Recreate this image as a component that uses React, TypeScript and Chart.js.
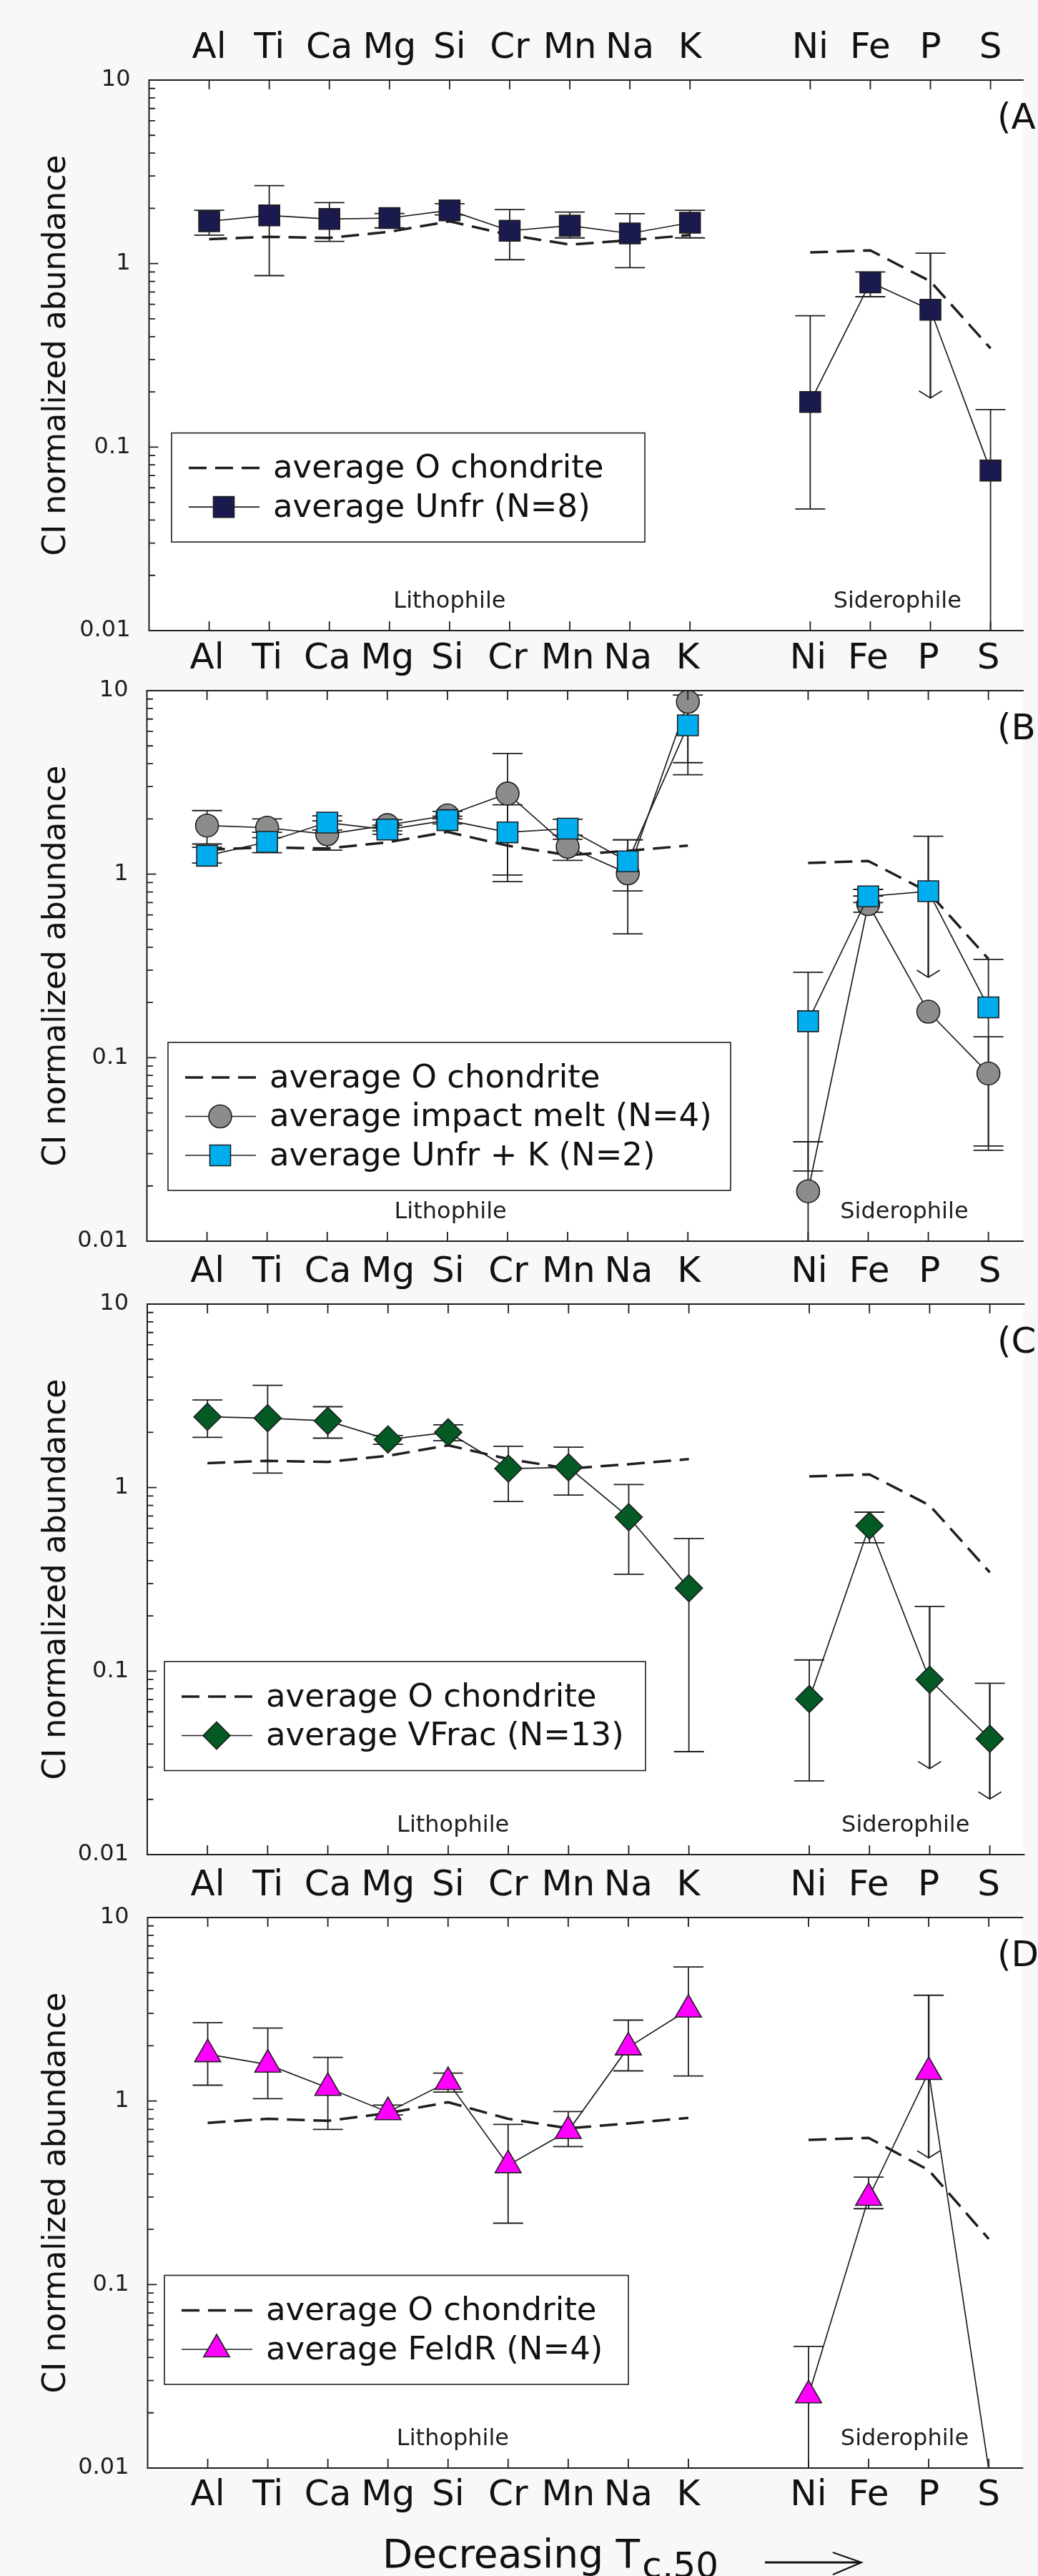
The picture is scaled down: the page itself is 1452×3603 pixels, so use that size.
import React, { useEffect, useRef } from 'react';
import { Chart, registerables } from 'chart.js';

Chart.register(...registerables);

const FONT = "'DejaVu Sans', Verdana, sans-serif";
const INK = '#1e1e1e';

// ---------- data ----------
const ELEMENTS = ['Al', 'Ti', 'Ca', 'Mg', 'Si', 'Cr', 'Mn', 'Na', 'K', 'Ni', 'Fe', 'P', 'S'];
const X_POSITIONS = [1, 2, 3, 4, 5, 6, 7, 8, 9, 11, 12, 13, 14];
const Y_TICKS = [0.01, 0.1, 1, 10];

const O_CHONDRITE = [1.36, 1.40, 1.38, 1.49, 1.70, 1.43, 1.27, 1.34, 1.43, 1.15, 1.18, 0.80, 0.345];
const O_CHONDRITE_D = [0.76, 0.80, 0.78, 0.86, 0.985, 0.80, 0.71, 0.755, 0.81, 0.614, 0.63, 0.42, 0.177];

const UNFR = [1.70, 1.83, 1.75, 1.77, 1.95, 1.51, 1.61, 1.46, 1.67, 0.176, 0.79, 0.56, 0.0745];
const UNFR_HI = [1.95, 2.66, 2.15, 1.875, 2.12, 1.97, 1.91, 1.87, 1.95, 0.52, 0.90, 1.14, 0.16];
const UNFR_LO = [1.43, 0.86, 1.32, 1.565, 1.84, 1.05, 1.38, 0.95, 1.38, 0.046, 0.66, 0.185, 0.005];
const UNFR_LIMIT = [0, 0, 0, 0, 0, 0, 0, 0, 0, 0, 0, 1, 0];

const IMPACT = [1.84, 1.79, 1.65, 1.85, 2.09, 2.75, 1.41, 1.01, 8.7, 0.0187, 0.687, 0.178, 0.082];
const IMPACT_HI = [2.22, 2.00, 1.95, 1.98, 2.20, 4.55, 1.63, 1.54, 13.3, 0.0348, 0.76, null, 0.130];
const IMPACT_LO = [1.46, 1.58, 1.35, 1.72, 2.00, 0.91, 1.19, 0.473, 4.05, 0.003, 0.62, null, 0.0313];
const IMPACT_LIMIT = [0, 0, 0, 0, 0, 0, 0, 0, 0, 0, 0, 0, 0];

const UNFR_K = [1.26, 1.50, 1.91, 1.75, 1.97, 1.69, 1.77, 1.175, 6.47, 0.158, 0.757, 0.807, 0.188];
const UNFR_K_HI = [1.40, 1.69, 2.08, 1.85, 2.07, 2.39, 1.99, 1.54, 9.46, 0.292, 0.826, 1.61, 0.343];
const UNFR_K_LO = [1.15, 1.31, 1.74, 1.65, 1.88, 0.99, 1.55, 0.81, 3.48, 0.0241, 0.70, 0.274, 0.033];
const UNFR_K_LIMIT = [0, 0, 0, 0, 0, 0, 0, 0, 0, 0, 0, 1, 0];

const VFRAC = [2.43, 2.39, 2.31, 1.83, 2.00, 1.27, 1.29, 0.69, 0.283, 0.0704, 0.62, 0.0898, 0.0428];
const VFRAC_HI = [3.00, 3.61, 2.76, 1.92, 2.20, 1.68, 1.66, 1.04, 0.528, 0.115, 0.735, 0.225, 0.0859];
const VFRAC_LO = [1.88, 1.20, 1.86, 1.72, 1.80, 0.84, 0.91, 0.337, 0.0364, 0.0252, 0.50, 0.0294, 0.0201];
const VFRAC_LIMIT = [0, 0, 0, 0, 0, 0, 0, 0, 0, 0, 0, 1, 1];

const FELDR = [1.80, 1.58, 1.18, 0.87, 1.27, 0.447, 0.687, 1.96, 3.15, 0.0249, 0.297, 1.44, 0.0098];
const FELDR_HI = [2.67, 2.50, 1.73, 0.95, 1.42, 0.746, 0.877, 2.76, 5.38, 0.046, 0.385, 3.77, null];
const FELDR_LO = [1.22, 1.03, 0.70, 0.84, 1.12, 0.216, 0.565, 1.46, 1.37, 0.004, 0.259, 0.49, null];
const FELDR_LIMIT = [0, 0, 0, 0, 0, 0, 0, 0, 0, 0, 0, 1, 0];

// ---------- helpers ----------
function series(values: (number | null)[]) {
  const pts: { x: number; y: number | null }[] = [];
  values.forEach((v, i) => {
    if (X_POSITIONS[i] === 11) pts.push({ x: 10, y: null });
    pts.push({ x: X_POSITIONS[i], y: v });
  });
  return pts;
}

function dashedSet(values: number[]) {
  return {
    label: 'average O chondrite',
    data: series(values),
    borderColor: INK,
    borderWidth: 3.5,
    borderDash: [25, 12],
    pointRadius: 0,
    pointHoverRadius: 0,
    fill: false,
    isDash: true,
  };
}

function markerSet(label: string, values: number[], lo: any[], hi: any[], limit: number[], style: string, color: string, radius: number) {
  return {
    label,
    data: series(values),
    borderColor: INK,
    borderWidth: 1.7,
    pointStyle: style,
    pointRadius: (ctx: any) => (ctx.raw && ctx.raw.y != null && ctx.raw.y < 0.01 ? 0 : radius),
    pointHoverRadius: radius,
    pointBackgroundColor: color,
    pointBorderColor: INK,
    pointBorderWidth: 1.6,
    fill: false,
    errLo: lo,
    errHi: hi,
    upperLimit: limit,
    markerStyle: style,
    markerColor: color,
    markerRadius: radius,
  };
}

function drawMarker(ctx: CanvasRenderingContext2D, style: string, x: number, y: number, r: number, fill: string) {
  ctx.beginPath();
  if (style === 'circle') {
    ctx.arc(x, y, r, 0, Math.PI * 2);
  } else if (style === 'rect') {
    const s = r * Math.SQRT1_2;
    ctx.rect(x - s, y - s, 2 * s, 2 * s);
  } else if (style === 'rectRot') {
    ctx.moveTo(x - r, y);
    ctx.lineTo(x, y - r);
    ctx.lineTo(x + r, y);
    ctx.lineTo(x, y + r);
    ctx.closePath();
  } else if (style === 'triangle') {
    ctx.moveTo(x, y - r);
    ctx.lineTo(x + r * 0.8660254, y + r * 0.5);
    ctx.lineTo(x - r * 0.8660254, y + r * 0.5);
    ctx.closePath();
  }
  ctx.fillStyle = fill;
  ctx.fill();
  ctx.lineWidth = 1.6;
  ctx.strokeStyle = INK;
  ctx.stroke();
}

type PanelCfg = {
  key: string;
  areaTop: number;
  left: number;
  canvasTop: number;
  canvasHeight: number;
  bottomPad: number;
  bottomAxis: boolean;
  legend: { left: number; top: number; right: number };
  lithoX: number;
  sideroX: number;
  makeDatasets: () => any[];
  legendOrder: number[];
};

const AXIS_ROW = 100;
const PLOT_H = 770;
const UNIT = 85.6;
const BOTTOM_PAD = 50;

const PANELS: PanelCfg[] = [
  {
    key: 'A', areaTop: 112, left: 208.5, canvasTop: 12, canvasHeight: AXIS_ROW + PLOT_H + BOTTOM_PAD, bottomPad: BOTTOM_PAD, bottomAxis: false,
    legend: { left: 240, top: 493.6, right: 902 }, lithoX: 5.0, sideroX: 12.45,
    makeDatasets: () => [
      markerSet('average Unfr (N=8)', UNFR, UNFR_LO, UNFR_HI, UNFR_LIMIT, 'rect', '#1a1a4e', 20.5),
      dashedSet(O_CHONDRITE),
    ],
    legendOrder: [1, 0],
  },
  {
    key: 'B', areaTop: 966, left: 205.5, canvasTop: 866, canvasHeight: AXIS_ROW + PLOT_H + BOTTOM_PAD, bottomPad: BOTTOM_PAD, bottomAxis: false,
    legend: { left: 235, top: 492, right: 1022 }, lithoX: 5.05, sideroX: 12.6,
    makeDatasets: () => [
      markerSet('average Unfr + K (N=2)', UNFR_K, UNFR_K_LO, UNFR_K_HI, UNFR_K_LIMIT, 'rect', '#00aeef', 20.5),
      markerSet('average impact melt (N=4)', IMPACT, IMPACT_LO, IMPACT_HI, IMPACT_LIMIT, 'circle', '#8c8c8c', 16),
      dashedSet(O_CHONDRITE),
    ],
    legendOrder: [2, 1, 0],
  },
  {
    key: 'C', areaTop: 1824, left: 206, canvasTop: 1724, canvasHeight: AXIS_ROW + PLOT_H + BOTTOM_PAD, bottomPad: BOTTOM_PAD, bottomAxis: false,
    legend: { left: 230, top: 500, right: 903 }, lithoX: 5.08, sideroX: 12.6,
    makeDatasets: () => [
      markerSet('average VFrac (N=13)', VFRAC, VFRAC_LO, VFRAC_HI, VFRAC_LIMIT, 'rectRot', '#035a24', 19),
      dashedSet(O_CHONDRITE),
    ],
    legendOrder: [1, 0],
  },
  {
    key: 'D', areaTop: 2682, left: 206.5, canvasTop: 2582, canvasHeight: 3603 - 2582, bottomPad: 0, bottomAxis: true,
    legend: { left: 230, top: 500.5, right: 879 }, lithoX: 5.08, sideroX: 12.6,
    makeDatasets: () => [
      markerSet('average FeldR (N=4)', FELDR, FELDR_LO, FELDR_HI, FELDR_LIMIT, 'triangle', '#ff00ff', 21),
      dashedSet(O_CHONDRITE_D),
    ],
    legendOrder: [1, 0],
  },
];

function decoPlugin(panel: PanelCfg) {
  return {
    id: 'deco' + panel.key,
    beforeDraw(chart: any) {
      const { ctx, chartArea: a } = chart;
      ctx.save();
      ctx.fillStyle = '#ffffff';
      ctx.fillRect(a.left, a.top, a.right - a.left, a.bottom - a.top);
      ctx.restore();
    },
    beforeDatasetsDraw(chart: any) {
      const { ctx, chartArea: a } = chart;
      const xs = chart.scales.x;
      const ys = chart.scales.y;
      ctx.save();
      ctx.beginPath();
      ctx.rect(a.left, a.top, a.right - a.left, a.bottom - a.top);
      ctx.clip();
      ctx.strokeStyle = INK;
      chart.data.datasets.forEach((ds: any) => {
        if (!ds.errLo) return;
        X_POSITIONS.forEach((xv, i) => {
          const hi = ds.errHi[i];
          const lo = ds.errLo[i];
          if (hi == null || lo == null) return;
          const px = xs.getPixelForValue(xv);
          const yHi = ys.getPixelForValue(hi);
          const yLo = ys.getPixelForValue(lo);
          const arrow = ds.upperLimit[i] === 1;
          ctx.lineWidth = arrow ? 2.4 : 1.8;
          ctx.beginPath();
          ctx.moveTo(px, yHi);
          ctx.lineTo(px, yLo);
          ctx.stroke();
          ctx.lineWidth = 1.8;
          ctx.beginPath();
          ctx.moveTo(px - 21, yHi);
          ctx.lineTo(px + 21, yHi);
          if (arrow) {
            ctx.moveTo(px - 16, yLo - 10);
            ctx.lineTo(px, yLo);
            ctx.lineTo(px + 16, yLo - 10);
          } else {
            ctx.moveTo(px - 21, yLo);
            ctx.lineTo(px + 21, yLo);
          }
          ctx.stroke();
        });
      });
      ctx.restore();
    },
    afterDatasetsDraw(chart: any) {
      const { ctx, chartArea: a } = chart;
      const xs = chart.scales.x;
      const ys = chart.scales.y;
      ctx.save();
      // frame
      ctx.strokeStyle = INK;
      ctx.lineWidth = 2;
      ctx.beginPath();
      ctx.moveTo(a.right + 2, a.top);
      ctx.lineTo(a.left, a.top);
      ctx.lineTo(a.left, a.bottom);
      ctx.lineTo(a.right + 2, a.bottom);
      ctx.stroke();
      // ticks (inward)
      ctx.lineWidth = 1.8;
      ctx.beginPath();
      X_POSITIONS.forEach((xv) => {
        const px = xs.getPixelForValue(xv);
        ctx.moveTo(px, a.top);
        ctx.lineTo(px, a.top + 13);
        ctx.moveTo(px, a.bottom);
        ctx.lineTo(px, a.bottom - 13);
      });
      Y_TICKS.forEach((d) => {
        const py = ys.getPixelForValue(d);
        ctx.moveTo(a.left, py);
        ctx.lineTo(a.left + 13, py);
        if (d < 10) {
          for (let m = 2; m <= 9; m++) {
            const pm = ys.getPixelForValue(d * m);
            ctx.moveTo(a.left, pm);
            ctx.lineTo(a.left + 8.5, pm);
          }
        }
      });
      ctx.stroke();

      // group labels
      ctx.fillStyle = INK;
      ctx.font = `32px ${FONT}`;
      ctx.textAlign = 'center';
      ctx.textBaseline = 'middle';
      ctx.fillText('Lithophile', xs.getPixelForValue(panel.lithoX), a.bottom - 40);
      ctx.fillText('Siderophile', xs.getPixelForValue(panel.sideroX), a.bottom - 40);

      // panel letter
      ctx.fillStyle = '#111';
      ctx.font = `50px ${FONT}`;
      ctx.textAlign = 'left';
      ctx.fillText(`(${panel.key})`, 1395, a.top + 55);

      // legend
      const lg = panel.legend;
      const items = panel.legendOrder.map((k) => chart.data.datasets[k]);
      const L = lg.left;
      const T = a.top + lg.top;
      const H = 49 * 2 + 54.5 * (items.length - 1);
      ctx.fillStyle = '#ffffff';
      ctx.fillRect(L, T, lg.right - L, H);
      ctx.lineWidth = 1.6;
      ctx.strokeStyle = INK;
      ctx.strokeRect(L, T, lg.right - L, H);
      items.forEach((ds: any, k: number) => {
        const cy = T + 49 + 54.5 * k;
        ctx.beginPath();
        ctx.moveTo(L + 24, cy);
        ctx.lineTo(L + 123, cy);
        ctx.strokeStyle = INK;
        if (ds.isDash) {
          ctx.lineWidth = 3.5;
          ctx.setLineDash([25, 12]);
        } else {
          ctx.lineWidth = 1.7;
        }
        ctx.stroke();
        ctx.setLineDash([]);
        if (!ds.isDash) drawMarker(ctx, ds.markerStyle, L + 73, cy, ds.markerRadius, ds.markerColor);
        ctx.fillStyle = '#111';
        ctx.font = `45px ${FONT}`;
        ctx.textAlign = 'left';
        ctx.textBaseline = 'middle';
        ctx.fillText(ds.label, L + 142, cy + 2);
      });
      ctx.restore();
    },
    afterDraw(chart: any) {
      if (!panel.bottomAxis) return;
      const { ctx } = chart;
      const off = panel.canvasTop;
      ctx.save();
      ctx.fillStyle = '#111';
      ctx.textAlign = 'left';
      ctx.textBaseline = 'alphabetic';
      ctx.font = `55px ${FONT}`;
      const main = 'Decreasing T';
      ctx.fillText(main, 535, 3590.5 - off);
      const w = ctx.measureText(main).width;
      ctx.font = `50px ${FONT}`;
      ctx.fillText('c,50', 535 + w + 3, 3605 - off);
      // arrow
      ctx.strokeStyle = '#111';
      ctx.lineWidth = 3;
      ctx.beginPath();
      ctx.moveTo(1070, 3584 - off);
      ctx.lineTo(1203, 3584 - off);
      ctx.stroke();
      ctx.lineWidth = 2.2;
      ctx.beginPath();
      ctx.moveTo(1165, 3570 - off);
      ctx.lineTo(1205, 3584 - off);
      ctx.lineTo(1165, 3601 - off);
      ctx.stroke();
      ctx.restore();
    },
  };
}

function xAxisOptions(position: 'top' | 'bottom', xMax: number, height: number, padding: number) {
  return {
    type: 'linear',
    position,
    min: 0,
    max: xMax,
    bounds: 'data',
    grid: { display: false, drawTicks: false },
    border: { display: false },
    afterBuildTicks: (s: any) => {
      s.ticks = X_POSITIONS.map((v) => ({ value: v }));
    },
    afterFit: (s: any) => {
      s.height = height;
    },
    ticks: {
      autoSkip: false,
      maxRotation: 0,
      minRotation: 0,
      padding,
      color: '#111',
      font: { family: FONT, size: 50 },
      callback: (v: any) => {
        const i = X_POSITIONS.indexOf(Number(v));
        return i >= 0 ? ELEMENTS[i] : '';
      },
    },
  };
}

function Panel({ panel }: { panel: PanelCfg }) {
  const ref = useRef<HTMLCanvasElement>(null);
  useEffect(() => {
    const canvas = ref.current;
    if (!canvas) return;
    const xMax = (1452 - panel.left) / UNIT;
    const scales: any = {
      x: xAxisOptions('top', xMax, AXIS_ROW, 14),
      y: {
        type: 'logarithmic',
        position: 'left',
        min: 0.01,
        max: 10,
        grid: { display: false, drawTicks: false },
        border: { display: false },
        afterBuildTicks: (s: any) => {
          s.ticks = Y_TICKS.map((v) => ({ value: v }));
        },
        afterFit: (s: any) => {
          s.width = panel.left;
        },
        ticks: {
          autoSkip: false,
          padding: 26,
          color: INK,
          font: { family: FONT, size: 32 },
          callback: (v: any) => String(v),
        },
        title: {
          display: true,
          text: 'CI normalized abundance',
          color: '#111',
          font: { family: FONT, size: 44 },
          padding: { top: 53.6, bottom: 0 },
        },
      },
    };
    if (panel.bottomAxis) {
      scales.x2 = xAxisOptions('bottom', xMax, 3603 - 3452, 9);
    }
    const chart = new Chart(canvas, {
      type: 'line',
      data: { datasets: panel.makeDatasets() as any },
      options: {
        responsive: false,
        maintainAspectRatio: false,
        animation: false,
        events: [],
        layout: { padding: { left: 0, right: 0, top: 0, bottom: panel.bottomPad } },
        plugins: {
          legend: { display: false },
          tooltip: { enabled: false },
          title: { display: false },
        },
        scales,
      } as any,
      plugins: [decoPlugin(panel) as any],
    });
    return () => chart.destroy();
  }, [panel]);
  return (
    <canvas
      ref={ref}
      width={1452}
      height={panel.canvasHeight}
      style={{ position: 'absolute', left: 0, top: panel.canvasTop, width: 1452, height: panel.canvasHeight }}
    />
  );
}

export default function App() {
  return (
    <div
      style={{
        position: 'absolute',
        left: 0,
        top: 0,
        width: 1452,
        height: 3603,
        overflow: 'hidden',
        background: '#f8f8f8',
      }}
    >
      {PANELS.map((p) => (
        <Panel key={p.key} panel={p} />
      ))}
    </div>
  );
}
